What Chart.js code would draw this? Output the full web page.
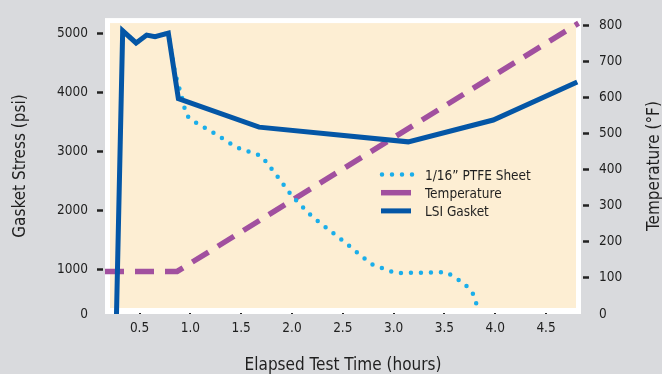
<!DOCTYPE html>
<html>
<head>
<meta charset="utf-8">
<title>Gasket Stress vs Elapsed Test Time</title>
<script src="https://cdn.jsdelivr.net/npm/chart.js@4.4.1/dist/chart.umd.min.js"></script>
<style>
    html, body { margin: 0; padding: 0; background: #d9dadd; }
    #wrap { width: 662px; height: 374px; }
</style>
</head>
<body>
<div id="wrap"><canvas id="gasketChart" width="662" height="374"></canvas></div>
<script>
// elapsed test time (hours) / gasket stress (psi)
const lsiTime = [0.27, 0.334, 0.466, 0.57, 0.652, 0.783, 0.882, 1.676, 3.144, 3.98, 4.807];
const lsiStress = [0, 5050, 4845, 4978, 4950, 5011, 3900, 3418, 3169, 3539, 4182];

const ptfeTime = [0.334, 0.466, 0.57, 0.652, 0.783, 0.85, 0.92, 0.96, 1.05, 1.25, 1.45, 1.70, 1.85, 2.0, 2.2, 2.53, 2.78, 3.02, 3.52, 3.70, 3.78, 3.84];
const ptfeStress = [5050, 4845, 4978, 4950, 5011, 4330, 3900, 3620, 3500, 3300, 3080, 2930, 2600, 2250, 1900, 1453, 1099, 945, 961, 762, 596, 300];

// elapsed test time (hours) / temperature (°F)
const tempTime = [0.16, 0.87, 4.82];
const tempValues = [118, 118, 806];

const timeTicks = [0.5, 1.0, 1.5, 2.0, 2.5, 3.0, 3.5, 4.0, 4.5];
const stressTicks = [1000, 2000, 3000, 4000, 5000];
const tempTicks = [0, 100, 200, 300, 400, 500, 600, 700, 800];

const STRESS_MIN = 252, STRESS_MAX = 5266;
const TEXT = '#1f1f1f';
const FAMILY = "'Liberation Sans Narrow', 'DejaVu Sans Condensed', sans-serif";

const toPoints = (xs, ys) => xs.map((x, i) => ({ x: x, y: ys[i] }));

// gray page, white frame, cream plot panel
const panelPlugin = {
    id: 'panel',
    beforeDraw(chart) {
        const { ctx, chartArea: a } = chart;
        ctx.save();
        ctx.fillStyle = '#d9dadd';
        ctx.fillRect(0, 0, chart.width, chart.height);
        ctx.fillStyle = '#ffffff';
        ctx.fillRect(a.left, a.top, a.right - a.left, a.bottom - a.top);
        ctx.fillStyle = '#fdeed3';
        ctx.fillRect(a.left + 5, a.top + 5, a.right - a.left - 10, a.bottom - a.top - 11);
        ctx.restore();
    },
    afterDraw(chart) {
        // right axis title reads bottom-to-top
        const { ctx, chartArea: a } = chart;
        ctx.save();
        ctx.translate(659, (a.top + a.bottom) / 2);
        ctx.rotate(-Math.PI / 2);
        ctx.font = '17px ' + FAMILY;
        ctx.fillStyle = TEXT;
        ctx.textAlign = 'center';
        ctx.textBaseline = 'alphabetic';
        ctx.fillText('Temperature (°F)', 0, 0);
        ctx.restore();
    }
};

// legend drawn inside the plot panel
const innerLegend = {
    id: 'innerLegend',
    afterDatasetsDraw(chart) {
        const ctx = chart.ctx;
        const x0 = 382, y0 = 174.5, row = 18.2;
        ctx.save();
        ctx.font = '13.5px ' + FAMILY;
        ctx.textBaseline = 'middle';
        ctx.fillStyle = TEXT;
        chart.data.datasets.forEach((ds, i) => {
            const y = y0 + i * row;
            ctx.beginPath();
            ctx.strokeStyle = ds.borderColor;
            ctx.lineWidth = ds.borderWidth;
            if (ds.legendDots) {
                ctx.setLineDash([0, 10]);
                ctx.lineCap = 'round';
                ctx.moveTo(x0, y);
                ctx.lineTo(x0 + 31, y);
            } else {
                ctx.setLineDash([]);
                ctx.lineCap = 'butt';
                ctx.moveTo(x0 - 1, y);
                ctx.lineTo(x0 + 29, y);
            }
            ctx.stroke();
            ctx.fillText(ds.label, x0 + 43, y + 1.5);
        });
        ctx.restore();
    }
};

const ctx = document.getElementById('gasketChart').getContext('2d');
new Chart(ctx, {
    type: 'line',
    data: {
        datasets: [
            {
                label: '1/16\u201D PTFE Sheet',
                data: toPoints(ptfeTime, ptfeStress),
                yAxisID: 'yStress',
                borderColor: '#1aaeea',
                borderWidth: 4.5,
                borderDash: [0, 10],
                borderCapStyle: 'round',
                legendDots: true,
                order: 1
            },
            {
                label: 'Temperature',
                data: toPoints(tempTime, tempValues),
                yAxisID: 'yTemp',
                borderColor: '#a1509f',
                borderWidth: 5.5,
                borderDash: [19, 11],
                order: 2
            },
            {
                label: 'LSI Gasket',
                data: toPoints(lsiTime, lsiStress),
                yAxisID: 'yStress',
                borderColor: '#0456a6',
                borderWidth: 5,
                borderJoinStyle: 'miter',
                order: 0
            }
        ]
    },
    options: {
        responsive: false,
        animation: false,
        layout: { padding: { top: 12, left: 0, right: 0, bottom: 0 } },
        elements: { point: { radius: 0 }, line: { tension: 0 } },
        plugins: { legend: { display: false }, tooltip: { enabled: false } },
        scales: {
            x: {
                type: 'linear',
                min: 0.16,
                max: 4.844,
                afterBuildTicks: s => { s.ticks = timeTicks.map(v => ({ value: v })); },
                afterFit: s => { s.height = 60; },
                ticks: {
                    callback: v => v.toFixed(1),
                    padding: 6,
                    maxRotation: 0,
                    autoSkip: false,
                    color: TEXT,
                    font: { family: FAMILY, size: 13.5 }
                },
                grid: { drawTicks: false, color: '#222', lineWidth: 2 },
                border: { display: false, dash: [0, 295, 6, 400] },
                title: {
                    display: true,
                    text: 'Elapsed Test Time (hours)',
                    color: TEXT,
                    padding: { top: 0, bottom: -2 },
                    font: { family: FAMILY, size: 17 }
                }
            },
            yStress: {
                position: 'left',
                min: STRESS_MIN,
                max: STRESS_MAX,
                afterBuildTicks: s => { s.ticks = [STRESS_MIN].concat(stressTicks).map(v => ({ value: v })); },
                afterFit: s => { s.width = 105; },
                ticks: {
                    callback: v => (v === STRESS_MIN ? '0' : String(v)),
                    padding: 9,
                    color: TEXT,
                    font: { family: FAMILY, size: 13.5 }
                },
                grid: {
                    drawOnChartArea: false,
                    tickLength: 8,
                    tickWidth: 2.5,
                    tickBorderDash: [6, 10],
                    tickColor: c => (c.tick && c.tick.value === STRESS_MIN ? 'rgba(0,0,0,0)' : '#222')
                },
                border: { display: false },
                title: {
                    display: true,
                    text: 'Gasket Stress (psi)',
                    color: TEXT,
                    padding: { top: 10, bottom: 0 },
                    font: { family: FAMILY, size: 17 }
                }
            },
            yTemp: {
                position: 'right',
                min: 0,
                max: 820,
                afterBuildTicks: s => { s.ticks = tempTicks.map(v => ({ value: v })); },
                afterFit: s => { s.width = 81; },
                ticks: {
                    padding: 10,
                    color: TEXT,
                    font: { family: FAMILY, size: 13.5 }
                },
                grid: {
                    drawOnChartArea: false,
                    tickLength: 8,
                    tickWidth: 2.5,
                    tickBorderDash: [0, 2, 6, 10],
                    tickColor: c => (c.tick && c.tick.value === 0 ? 'rgba(0,0,0,0)' : '#222')
                },
                border: { display: false }
            }
        }
    },
    plugins: [panelPlugin, innerLegend]
});
</script>
</body>
</html>
